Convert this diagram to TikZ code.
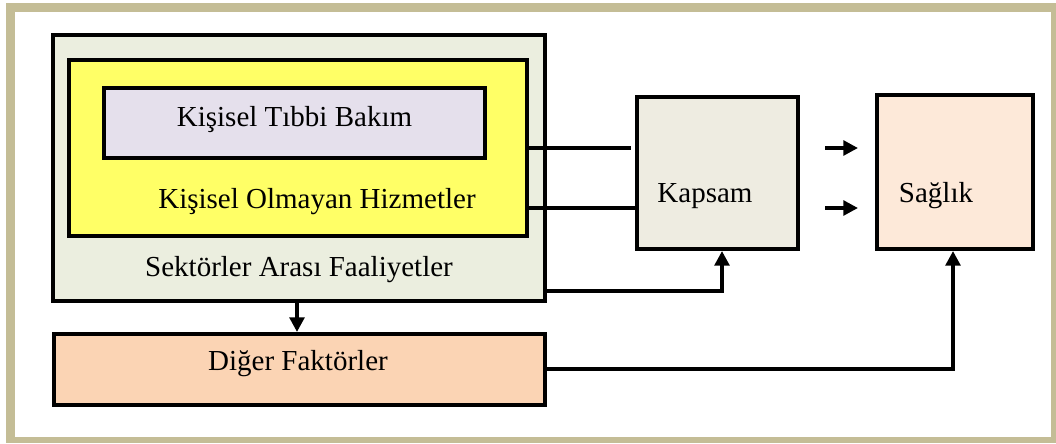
\documentclass[tikz,border=0pt]{standalone}
\usepackage{fontspec}
\setmainfont{Liberation Serif}
\usetikzlibrary{arrows.meta}

\definecolor{frametan}{RGB}{196,189,150}
\definecolor{sectorfill}{RGB}{235,238,223}
\definecolor{yellowfill}{RGB}{255,255,102}
\definecolor{lavfill}{RGB}{229,224,236}
\definecolor{kapsamfill}{RGB}{238,236,225}
\definecolor{saglikfill}{RGB}{253,233,217}
\definecolor{digerfill}{RGB}{251,212,180}

\begin{document}
\begin{tikzpicture}[x=0.75pt,y=-0.75pt,
  box/.style={draw=black, line width=3pt, inner sep=0pt, anchor=center},
  lbl/.style={anchor=base, inner sep=0pt, font=\fontsize{21.75pt}{26pt}\selectfont},
  conn/.style={line width=2.7pt},
  tip/.style={-{Triangle[length=11pt,width=11pt]}}]

\useasboundingbox (0,0) rectangle (1056,443);

% page frame
\fill[frametan] (6,3) rectangle (1056,443);
\fill[white] (15,12) rectangle (1051,437);

% boxes
\node[box, fill=sectorfill, minimum width=369pt, minimum height=199.5pt] (sektor) at (299,168) {};
\node[box, fill=yellowfill, minimum width=343.5pt, minimum height=132pt] (kisisel) at (298,148) {};
\node[box, fill=lavfill, minimum width=285.75pt, minimum height=52.5pt] (tibbi) at (294.5,123) {};
\node[box, fill=kapsamfill, minimum width=120.75pt, minimum height=114pt] (kapsam) at (717.5,173) {};
\node[box, fill=saglikfill, minimum width=117pt, minimum height=115.5pt] (saglik) at (955,172) {};
\node[box, fill=digerfill, minimum width=368.25pt, minimum height=53.25pt] (diger) at (299.5,369.5) {};

% labels
\node[lbl] (ttibbi) at (294.5,126) {Kişisel Tıbbi Bakım};
\node[lbl] (tkisisel) at (317,208) {Kişisel Olmayan Hizmetler};
\node[lbl] (tsektor) at (299,276) {Sektörler Arası Faaliyetler};
\node[lbl] (tdiger) at (298,370) {Diğer Faktörler};
\node[lbl] (tkapsam) at (705,202) {Kapsam};
\node[lbl] (tsaglik) at (936,202) {Sağlık};

% routing points
\coordinate (r1) at (0,148);
\coordinate (r2) at (0,208);
\coordinate (r3) at (722,291);
\coordinate (r4) at (297,0);
\coordinate (r5) at (953,369);
\coordinate (a1s) at (825,148);
\coordinate (a1e) at (858,148);
\coordinate (a2s) at (825,208);
\coordinate (a2e) at (858,208);

% connectors
\draw[conn, shorten >=3pt] (kisisel.east |- r1) -- (kapsam.west |- r1);
\draw[conn] (kisisel.east |- r2) -- (kapsam.west |- r2);
\draw[conn, tip] (sektor.east |- r3) -- (r3) -- (r3 |- kapsam.south);
\draw[conn, tip] (r4 |- sektor.south) -- (r4 |- diger.north);
\draw[conn, tip] (diger.east |- r5) -- (r5) -- (r5 |- saglik.south);
\draw[conn, tip] (a1s) -- (a1e);
\draw[conn, tip] (a2s) -- (a2e);

\end{tikzpicture}
\end{document}
